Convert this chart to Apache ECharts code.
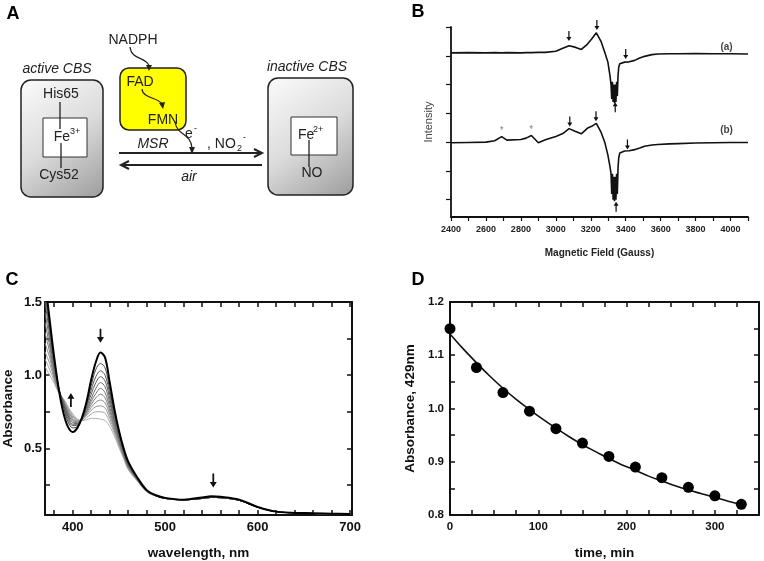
<!DOCTYPE html>
<html>
<head>
<meta charset="utf-8">
<script src="https://cdn.jsdelivr.net/npm/echarts@6/dist/echarts.min.js"></script>
<style>
  html, body { margin: 0; padding: 0; background: #fff; }
  #chart { width: 764px; height: 561px; }
</style>
</head>
<body>
<div id="chart"></div>
<script>
// ---- panel B: EPR spectra ----
const fieldB = [2400,2500,2600,2650,2690,2720,2800,2830,2860,2900,2940,3000,3040,3076,3110,3146,3180,3205,3232,3260,3280,3298,3310,3316,3320,3324,3328,3332,3336,3340,3344,3348,3352,3356,3360,3366,3394,3420,3451,3480,3508,3550,3584,3650,3700,3800,3900,4000,4100];
const epr_a = [5.10,5.11,5.10,5.11,5.10,5.11,5.10,5.11,5.11,5.12,5.12,5.16,5.26,5.35,5.30,5.22,5.40,5.58,5.80,5.48,5.12,4.78,4.30,4.0,3.5,4.1,3.4,4.0,3.35,4.0,3.4,4.1,3.6,4.3,4.6,4.72,4.78,4.79,4.84,4.92,4.98,5.04,5.06,5.07,5.07,5.08,5.07,5.07,5.06];
const epr_b = [1.98,1.99,2.00,2.05,2.19,2.07,2.09,2.14,2.23,1.98,2.08,2.20,2.30,2.47,2.38,2.29,2.48,2.55,2.65,2.33,2.0,1.55,1.15,0.9,0.2,0.9,0.0,0.8,-0.05,0.8,0.0,0.9,0.2,1.1,1.45,1.62,1.69,1.70,1.74,1.80,1.86,1.90,1.92,1.94,1.95,1.97,1.98,1.99,1.99];
const eprDownArrows = [[3075,5.69],[3235,6.07],[3400,5.06],[3080,2.72],[3230,2.9],[3410,1.92]];
const eprUpArrows = [[3340,3.21],[3345,-0.24]];
const eprStars = [[2690,2.45],[2860,2.48]];
const eprTags = [[3977,5.3,'(a)'],[3977,2.42,'(b)']];
const eprXLabels = [2400,2600,2800,3000,3200,3400,3600,3800,4000];
const eprXTicks = [2400,2500,2600,2700,2800,2900,3000,3100,3200,3300,3400,3500,3600,3700,3800,3900,4000,4100];
const eprYTicks = [0,1,2,3,4,5,6];

// ---- panel C: absorbance spectra ----
const wlHead = [370,375,380,385,390,395,400,405,410,415,420,425,430,435,440,445,450,455,460,470,480,490];
const wlTail = [500,520,540,550,560,580,600,620,650,680,700];
const specStartHead = [1.65,1.38,1.12,0.90,0.74,0.645,0.612,0.64,0.71,0.82,0.97,1.09,1.155,1.12,0.95,0.77,0.62,0.50,0.41,0.30,0.215,0.18];
const specStartTail = [0.162,0.15,0.165,0.173,0.17,0.15,0.10,0.068,0.058,0.054,0.052];
const specGreyTail = [0.158,0.148,0.158,0.165,0.163,0.145,0.098,0.068,0.057,0.053,0.051];
const specGreyHeads = [
  [1.60,1.34,1.10,0.91,0.78,0.68,0.64,0.65,0.71,0.81,0.93,1.04,1.08,1.05,0.90,0.74,0.61,0.49,0.40,0.295,0.212,0.178],
  [1.55,1.31,1.08,0.91,0.79,0.70,0.655,0.66,0.705,0.79,0.90,0.99,1.03,1.00,0.87,0.72,0.60,0.485,0.395,0.293,0.211,0.178],
  [1.50,1.28,1.06,0.91,0.80,0.715,0.665,0.665,0.70,0.78,0.87,0.95,0.99,0.96,0.84,0.70,0.585,0.48,0.39,0.29,0.21,0.177],
  [1.43,1.24,1.04,0.905,0.81,0.725,0.675,0.67,0.70,0.765,0.84,0.91,0.95,0.92,0.81,0.685,0.57,0.47,0.385,0.288,0.209,0.177],
  [1.36,1.20,1.02,0.90,0.815,0.735,0.685,0.675,0.70,0.755,0.82,0.875,0.91,0.88,0.78,0.665,0.56,0.46,0.38,0.286,0.208,0.176],
  [1.29,1.16,1.00,0.895,0.82,0.745,0.695,0.68,0.70,0.745,0.80,0.845,0.87,0.845,0.755,0.65,0.55,0.455,0.375,0.284,0.207,0.176],
  [1.22,1.12,0.99,0.89,0.825,0.755,0.705,0.685,0.695,0.735,0.78,0.815,0.83,0.81,0.73,0.635,0.54,0.45,0.37,0.282,0.206,0.175],
  [1.16,1.08,0.975,0.885,0.83,0.765,0.715,0.69,0.695,0.725,0.76,0.785,0.79,0.775,0.705,0.62,0.53,0.445,0.365,0.28,0.205,0.175],
  [1.11,1.04,0.96,0.88,0.835,0.775,0.725,0.695,0.69,0.71,0.735,0.75,0.75,0.74,0.68,0.605,0.52,0.44,0.36,0.278,0.204,0.174],
  [1.06,1.00,0.945,0.875,0.84,0.785,0.735,0.70,0.69,0.695,0.705,0.705,0.70,0.69,0.65,0.585,0.505,0.43,0.355,0.275,0.203,0.174]
];
const greyColors = ['#444','#555','#5e5e5e','#686868','#727272','#7c7c7c','#888','#949494','#a2a2a2','#b0b0b0'];
const specDownArrows = [[430,1.27],[552,0.28]];
const specUpArrows = [[398,0.83]];
const specXLabels = [400,500,600,700];
const specXTicks = [380,400,420,440,460,480,500,520,540,560,580,600,620,640,660,680,700];
const specYLabels = [0.5,1.0,1.5];
const specYTicks = [0.25,0.5,0.75,1.0,1.25,1.5];

// ---- panel D: decay at 429 nm ----
const timeMin = [0,30,60,90,120,150,180,210,240,270,300,330];
const abs429 = [1.15,1.077,1.03,0.995,0.962,0.935,0.91,0.89,0.87,0.852,0.836,0.82];
const fitTime = [0,15,30,45,60,75,90,105,120,135,150,165,180,195,210,225,240,255,270,285,300,315,330];
const fitAbs = [1.140,1.112,1.086,1.061,1.038,1.017,0.998,0.980,0.963,0.947,0.932,0.919,0.906,0.894,0.884,0.873,0.864,0.855,0.847,0.840,0.833,0.826,0.820];
const timeLabels = [0,100,200,300];
const timeTicks = [0,25,50,75,100,125,150,175,200,225,250,275,300,325,350];
const absLabels = [0.8,0.9,1.0,1.1,1.2];
const absTicks = [0.8,0.85,0.9,0.95,1.0,1.05,1.1,1.15,1.2];

const FONT = "'Liberation Sans', Arial, sans-serif";
const INK = '#111';
const zip = (xs, ys) => xs.map((x, i) => [x, ys[i]]);
const arrowPath = 'path://M3,0 L5,0 L5,9 L8,9 L4,15 L0,9 L3,9 Z';

const chart = echarts.init(document.getElementById('chart'), null, { renderer: 'canvas' });

function boxAxis(gridIndex, pos, min, max, ticks, labels, fontSize, extra) {
  return Object.assign({
    type: 'value', gridIndex, position: pos, min, max,
    axisLine: { show: true, onZero: false, lineStyle: { color: INK, width: 2 } },
    axisTick: { show: true, inside: true, length: 5, customValues: ticks, lineStyle: { color: INK, width: 1.5 } },
    axisLabel: labels ? { show: true, customValues: labels, fontFamily: FONT, fontWeight: 'bold', fontSize, color: INK, margin: 6 } : { show: false },
    splitLine: { show: false }
  }, extra || {});
}

// panel A diagram, drawn as graphics
const boxGrad = new echarts.graphic.LinearGradient(0, 0, 1, 1, [
  { offset: 0, color: '#fbfbfb' }, { offset: 0.5, color: '#dcdcdc' }, { offset: 1, color: '#9c9c9c' }
]);
const txt = (x, y, text, size, opts) => ({
  type: 'text', x, y,
  style: Object.assign({ text, fontFamily: FONT, fontSize: size, fill: '#222', align: 'center', verticalAlign: 'middle' }, opts || {})
});
const line = (x1, y1, x2, y2, w) => ({ type: 'line', shape: { x1, y1, x2, y2 }, style: { stroke: '#222', lineWidth: w || 1.5 } });
const head = (pts) => ({ type: 'polygon', shape: { points: pts }, style: { fill: '#222' } });
const chevron = (pts) => ({ type: 'polyline', shape: { points: pts }, style: { stroke: '#222', lineWidth: 2, fill: null } });
const curve = (x1, y1, c1x, c1y, c2x, c2y, x2, y2) => ({
  type: 'bezierCurve', shape: { x1, y1, cpx1: c1x, cpy1: c1y, cpx2: c2x, cpy2: c2y, x2, y2 },
  style: { stroke: '#222', lineWidth: 1.2, fill: null }
});

const graphics = [
  txt(13, 14, 'A', 18, { fontWeight: 'bold', fill: '#000' }),
  txt(418, 12, 'B', 18, { fontWeight: 'bold', fill: '#000' }),
  txt(12, 280, 'C', 18, { fontWeight: 'bold', fill: '#000' }),
  txt(418, 280, 'D', 18, { fontWeight: 'bold', fill: '#000' }),

  // left box
  txt(57, 69, 'active CBS', 14, { fontStyle: 'italic' }),
  { type: 'rect', shape: { x: 21, y: 80, width: 82, height: 117, r: 10 }, style: { fill: boxGrad, stroke: '#222', lineWidth: 1.5 } },
  { type: 'rect', shape: { x: 43, y: 118, width: 44, height: 39 }, style: { fill: '#fff', stroke: '#333', lineWidth: 1 } },
  line(60, 102, 60, 129, 1.3),
  line(61, 143, 61, 168, 1.3),
  txt(61, 94, 'His65', 14),
  txt(70, 137, 'Fe', 14, { align: 'right' }),
  txt(70, 132, '3+', 9, { align: 'left' }),
  txt(59, 175, 'Cys52', 14),

  // right box
  txt(307, 67, 'inactive CBS', 14, { fontStyle: 'italic' }),
  { type: 'rect', shape: { x: 268, y: 78, width: 85, height: 117, r: 10 }, style: { fill: boxGrad, stroke: '#222', lineWidth: 1.5 } },
  { type: 'rect', shape: { x: 291, y: 117, width: 46, height: 38 }, style: { fill: '#fff', stroke: '#333', lineWidth: 1 } },
  line(309, 140, 309, 167, 1.3),
  txt(298, 135, 'Fe', 14, { align: 'left' }),
  txt(313, 130, '2+', 9, { align: 'left' }),
  txt(312, 173, 'NO', 14),

  // flavin box
  { type: 'rect', shape: { x: 120, y: 68, width: 66, height: 62, r: 9 }, style: { fill: '#ffff00', stroke: '#222', lineWidth: 1.5 } },
  txt(140, 82, 'FAD', 14),
  txt(163, 120, 'FMN', 14),
  txt(133, 40, 'NADPH', 14),
  curve(130, 47, 131, 60, 147, 57, 149, 66), head([[149, 71], [146, 65], [152, 65]]),
  curve(142, 89, 143, 99, 158, 97, 162, 104), head([[163, 109], [159, 103], [165, 102]]),
  curve(175, 122, 177, 136, 191, 133, 192, 148), head([[192, 154], [189, 147], [195, 147]]),

  // reaction arrows
  line(119, 153, 261, 153, 2), chevron([[254, 149], [262, 153], [254, 157]]),
  line(121, 165, 262, 165, 2), chevron([[129, 161], [121, 165], [129, 169]]),
  txt(153, 144, 'MSR', 14, { fontStyle: 'italic' }),
  txt(189, 177, 'air', 14, { fontStyle: 'italic' }),
  txt(189, 134, 'e', 14),
  txt(194, 129, '-', 9, { align: 'left' }),
  txt(207, 144, ', NO', 14, { align: 'left' }),
  txt(237, 149, '2', 9, { align: 'left' }),
  txt(243, 138, '-', 9, { align: 'left' })
];

const series = [
  // B
  { type: 'line', xAxisIndex: 0, yAxisIndex: 0, data: zip(fieldB, epr_a), showSymbol: false, symbol: 'none', lineStyle: { color: INK, width: 1.6 }, silent: true },
  { type: 'line', xAxisIndex: 0, yAxisIndex: 0, data: zip(fieldB, epr_b), showSymbol: false, symbol: 'none', lineStyle: { color: INK, width: 1.6 }, silent: true },
  { type: 'scatter', xAxisIndex: 0, yAxisIndex: 0, data: eprDownArrows, symbol: arrowPath, symbolSize: [5, 10], itemStyle: { color: INK, opacity: 1 }, clip: false, silent: true },
  { type: 'scatter', xAxisIndex: 0, yAxisIndex: 0, data: eprUpArrows, symbol: arrowPath, symbolRotate: 180, symbolSize: [5, 10], itemStyle: { color: INK, opacity: 1 }, clip: false, silent: true },
  { type: 'scatter', xAxisIndex: 0, yAxisIndex: 0, data: eprStars, symbol: 'circle', symbolSize: 1,
    itemStyle: { color: '#666' }, label: { show: true, position: 'inside', formatter: '*', fontSize: 9, color: '#555', fontFamily: FONT }, silent: true },
  { type: 'scatter', xAxisIndex: 0, yAxisIndex: 0, data: eprTags.map(t => ({ value: [t[0], t[1]], name: t[2] })), symbol: 'circle', symbolSize: 1,
    itemStyle: { color: 'rgba(0,0,0,0)' }, label: { show: true, position: 'inside', formatter: '{b}', fontSize: 10, fontWeight: 'bold', color: INK, fontFamily: FONT }, silent: true }
];
// C grey curves, later times lighter
specGreyHeads.slice().reverse().forEach((h, k) => {
  const i = specGreyHeads.length - 1 - k;
  series.push({ type: 'line', xAxisIndex: 1, yAxisIndex: 1, data: zip(wlHead.concat(wlTail), h.concat(specGreyTail)),
    smooth: 0.35, showSymbol: false, symbol: 'none', lineStyle: { color: greyColors[i], width: 1 }, silent: true });
});
series.push(
  { type: 'line', xAxisIndex: 1, yAxisIndex: 1, data: zip(wlHead.concat(wlTail), specStartHead.concat(specStartTail)),
    smooth: 0.35, showSymbol: false, symbol: 'none', lineStyle: { color: '#000', width: 2 }, silent: true },
  { type: 'scatter', xAxisIndex: 1, yAxisIndex: 1, data: specDownArrows, symbol: arrowPath, symbolSize: [7, 14], itemStyle: { color: INK, opacity: 1 }, silent: true },
  { type: 'scatter', xAxisIndex: 1, yAxisIndex: 1, data: specUpArrows, symbol: arrowPath, symbolRotate: 180, symbolSize: [7, 14], itemStyle: { color: INK, opacity: 1 }, silent: true },
  // D
  { type: 'line', xAxisIndex: 3, yAxisIndex: 3, data: zip(fitTime, fitAbs), smooth: 0.4, showSymbol: false, symbol: 'none', lineStyle: { color: INK, width: 1.6 }, silent: true },
  { type: 'scatter', xAxisIndex: 3, yAxisIndex: 3, data: zip(timeMin, abs429), symbol: 'circle', symbolSize: 11, itemStyle: { color: '#000', opacity: 1 }, clip: false, z: 5, silent: true }
);

const option = {
  animation: false,
  textStyle: { fontFamily: FONT },
  grid: [
    { left: 451, top: 27, width: 297, height: 190 },
    { left: 41, top: 302, width: 311, height: 215 },
    { left: 450, top: 302, width: 309, height: 215 }
  ],
  xAxis: [
    {
      type: 'value', gridIndex: 0, min: 2400, max: 4100,
      name: 'Magnetic Field (Gauss)', nameLocation: 'middle', nameGap: 31,
      nameTextStyle: { fontFamily: FONT, fontWeight: 'bold', fontSize: 10, color: '#222' },
      axisLine: { show: true, onZero: false, lineStyle: { color: INK, width: 1.8 } },
      axisTick: { show: true, length: 4, customValues: eprXTicks, lineStyle: { color: INK, width: 1.2 } },
      axisLabel: { customValues: eprXLabels, formatter: v => String(v), fontFamily: FONT, fontWeight: 'bold', fontSize: 9, color: '#222', margin: 8 },
      splitLine: { show: false }
    },
    boxAxis(1, 'bottom', 370, 702, specXTicks, specXLabels, 13, {
      name: 'wavelength, nm', nameLocation: 'middle', nameGap: 31,
      nameTextStyle: { fontFamily: FONT, fontWeight: 'bold', fontSize: 13.5, color: INK }
    }),
    boxAxis(1, 'top', 370, 702, specXTicks, null),
    boxAxis(2, 'bottom', 0, 350, timeTicks, timeLabels, 11.5, {
      name: 'time, min', nameLocation: 'middle', nameGap: 31,
      nameTextStyle: { fontFamily: FONT, fontWeight: 'bold', fontSize: 13.5, color: INK }
    }),
    boxAxis(2, 'top', 0, 350, timeTicks, null)
  ],
  yAxis: [
    {
      type: 'value', gridIndex: 0, min: -0.6, max: 6,
      name: 'Intensity', nameLocation: 'middle', nameGap: 17,
      nameTextStyle: { fontFamily: FONT, fontSize: 11, color: '#444' },
      axisLine: { show: true, onZero: false, lineStyle: { color: INK, width: 1.8 } },
      axisTick: { show: true, length: 5, customValues: eprYTicks, lineStyle: { color: INK, width: 1.2 } },
      axisLabel: { show: false },
      splitLine: { show: false }
    },
    boxAxis(1, 'left', 0.045, 1.5, specYTicks, specYLabels, 13, {
      name: 'Absorbance', nameLocation: 'middle', nameGap: 30,
      nameTextStyle: { fontFamily: FONT, fontWeight: 'bold', fontSize: 13.5, color: INK },
      axisLabel: { show: true, customValues: specYLabels, fontFamily: FONT, fontWeight: 'bold', fontSize: 13, color: INK, margin: 3,
        formatter: v => v.toFixed(1) }
    }),
    boxAxis(1, 'right', 0.045, 1.5, specYTicks, null),
    boxAxis(2, 'left', 0.8, 1.2, absTicks, absLabels, 11.5, {
      name: 'Absorbance, 429nm', nameLocation: 'middle', nameGap: 33,
      nameTextStyle: { fontFamily: FONT, fontWeight: 'bold', fontSize: 13.5, color: INK },
      axisLabel: { show: true, customValues: absLabels, fontFamily: FONT, fontWeight: 'bold', fontSize: 11.5, color: INK, margin: 6,
        formatter: v => v.toFixed(1) }
    }),
    boxAxis(2, 'right', 0.8, 1.2, absTicks, null)
  ],
  graphic: graphics,
  series: series
};

chart.setOption(option);
</script>
</body>
</html>
